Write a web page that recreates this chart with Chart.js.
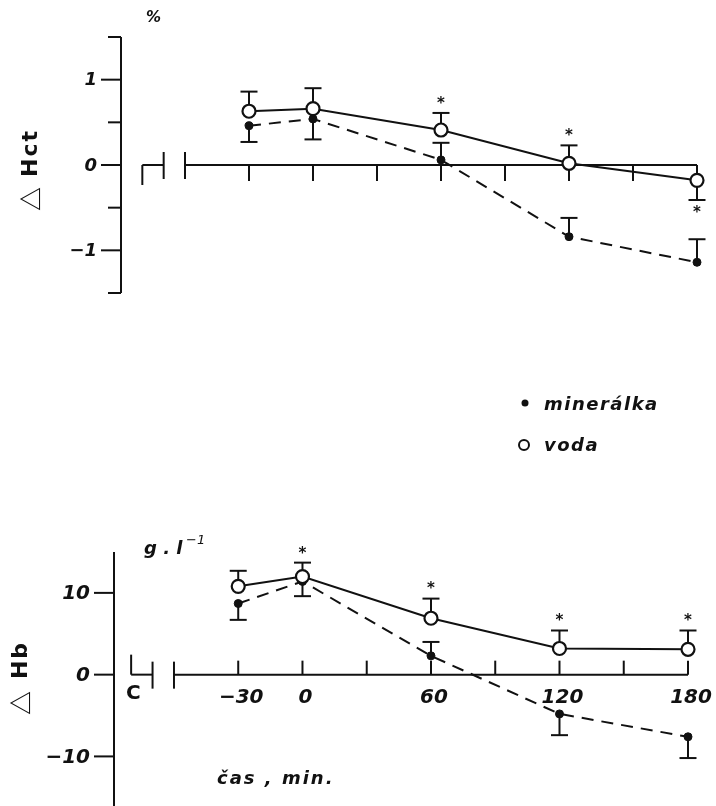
<!DOCTYPE html>
<html>
<head>
<meta charset="utf-8">
<script src="https://cdn.jsdelivr.net/npm/chart.js@4.4.1/dist/chart.umd.min.js"></script>
<style>
  body { margin: 0; background: #fff; width: 716px; height: 806px; position: relative; overflow: hidden; }
  canvas { position: absolute; left: 0; }
  #hct { top: 0; }
  #hb { top: 480px; }
</style>
</head>
<body>
<canvas id="hct" width="716" height="480"></canvas>
<canvas id="hb" width="716" height="326"></canvas>
<script>
// time points, min
const times = [-30, 0, 60, 120, 180];
const xTicks = [-30, 0, 30, 60, 90, 120, 150, 180];
const xTickLabels = ['\u221230', '0', '', '60', '', '120', '', '180'];

// delta Hct, %
const hctVoda = [0.63, 0.66, 0.41, 0.02, -0.18];
const hctVodaErr = [0.23, 0.24, 0.20, 0.21, -0.23];   // sign = side the bar is drawn
const hctMineralka = [0.46, 0.54, 0.06, -0.84, -1.14];
const hctMineralkaErr = [-0.19, -0.24, 0.20, 0.22, 0.27];
const hctStars = [false, false, true, true, true];
const hctTicks = [-1.5, -1, -0.5, 0, 0.5, 1, 1.5];
const hctTickLabels = ['', '\u22121', '', '0', '', '1', ''];

// delta Hb, g/l
const hbVoda = [10.8, 12.0, 6.9, 3.2, 3.1];
const hbVodaErr = [1.9, 1.7, 2.4, 2.2, 2.3];
const hbMineralka = [8.7, 11.4, 2.3, -4.8, -7.6];
const hbMineralkaErr = [-2.0, -1.8, 1.7, -2.6, -2.6];
const hbStars = [false, true, true, true, true];
const hbTicks = [-10, 0, 10];
const hbTickLabels = ['\u221210', '0', '10'];

const INK = '#111';
const FONT = "'DejaVu Sans'";

const toPoints = (vals) => times.map((t, i) => ({ x: t, y: vals[i] }));

function makeDatasets(voda, mineralka) {
	return [
		{
			label: 'voda',
			data: toPoints(voda),
			borderColor: INK,
			borderWidth: 2,
			pointRadius: 6.5,
			pointBorderWidth: 2.2,
			pointBackgroundColor: '#fff',
			pointBorderColor: INK,
			tension: 0,
			clip: false
		},
		{
			label: 'minerálka',
			data: toPoints(mineralka),
			borderColor: INK,
			borderWidth: 2,
			borderDash: [12, 8],
			pointRadius: 4,
			pointBorderWidth: 1,
			pointBackgroundColor: INK,
			pointBorderColor: INK,
			tension: 0,
			clip: false
		}
	];
}

function line(ctx, x1, y1, x2, y2) {
	ctx.beginPath();
	ctx.moveTo(x1, y1);
	ctx.lineTo(x2, y2);
	ctx.stroke();
}

// error bars with caps, stars next to the voda caps
function drawErrors(chart, errs, stars) {
	const ctx = chart.ctx;
	const xs = chart.scales.x, ys = chart.scales.y;
	ctx.save();
	ctx.strokeStyle = INK;
	ctx.lineWidth = 2;
	chart.data.datasets.forEach((ds, d) => {
		ds.data.forEach((p, i) => {
			const x = xs.getPixelForValue(p.x);
			const y0 = ys.getPixelForValue(p.y);
			const y1 = ys.getPixelForValue(p.y + errs[d][i]);
			line(ctx, x, y0, x, y1);
			line(ctx, x - 8.5, y1, x + 8.5, y1);
		});
	});
	ctx.fillStyle = INK;
	ctx.font = 'bold 15px ' + FONT;
	ctx.textAlign = 'center';
	ctx.textBaseline = 'middle';
	const voda = chart.data.datasets[0].data;
	voda.forEach((p, i) => {
		if (!stars[i]) return;
		const e = errs[0][i];
		const yc = ys.getPixelForValue(p.y + e);
		ctx.fillText('*', xs.getPixelForValue(p.x), yc + (e > 0 ? -9 : 13));
	});
	ctx.restore();
}

// broken x axis: "C" bracket, gap, then the time axis
function drawXAxis(chart, tickDir, tickLen, bracketDir) {
	const ctx = chart.ctx;
	const xs = chart.scales.x, ys = chart.scales.y;
	const y = ys.getPixelForValue(0);
	ctx.save();
	ctx.strokeStyle = INK;
	ctx.lineWidth = 2;
	const c1 = xs.getPixelForValue(-80), c2 = xs.getPixelForValue(-70), a0 = xs.getPixelForValue(-60);
	line(ctx, c1, y, c1, y + bracketDir * 20);
	line(ctx, c1, y, c2, y);
	line(ctx, c2, y - 13, c2, y + 14);
	line(ctx, a0, y - 13, a0, y + 14);
	line(ctx, a0, y, xs.right, y);
	xTicks.forEach(t => {
		const x = xs.getPixelForValue(t);
		line(ctx, x, y, x, y + tickDir * tickLen);
	});
	ctx.restore();
}

function drawYAxis(chart, ticks, labels, top, bottom, fontSize) {
	const ctx = chart.ctx;
	const ys = chart.scales.y;
	const x = chart.scales.x.left;
	ctx.save();
	ctx.strokeStyle = INK;
	ctx.lineWidth = 2;
	line(ctx, x, top, x, bottom);
	ctx.fillStyle = INK;
	ctx.font = 'bold italic ' + fontSize + 'px ' + FONT;
	ctx.textAlign = 'right';
	ctx.textBaseline = 'middle';
	ticks.forEach((v, i) => {
		const y = ys.getPixelForValue(v);
		const len = Number.isInteger(v) ? 20 : 13;
		line(ctx, x - len, y, x, y);
		if (labels[i]) ctx.fillText(labels[i], x - 20 - 4, y + 1);
	});
	ctx.restore();
}

function text(ctx, str, x, y, font, spacing, align) {
	ctx.font = font;
	ctx.letterSpacing = spacing || '0px';
	ctx.textAlign = align || 'left';
	ctx.fillText(str, x, y);
}

// rotated axis title: big hollow triangle + quantity name, centred at (cx, cy)
function axisTitle(ctx, name, cx, cy, gap) {
	ctx.save();
	ctx.translate(cx, cy);
	ctx.rotate(-Math.PI / 2);
	const triFont = "bold 24px 'Noto Sans CJK SC'";
	const nameFont = 'bold 22px ' + FONT;
	ctx.font = triFont;
	ctx.letterSpacing = '0px';
	const wTri = ctx.measureText('\u25B3').width;
	ctx.font = nameFont;
	ctx.letterSpacing = '2px';
	const wName = ctx.measureText(name).width;
	const x0 = -(wTri + gap + wName) / 2;
	text(ctx, '\u25B3', x0, 0, triFont, '0px');
	text(ctx, name, x0 + wTri + gap, 0, nameFont, '2px');
	ctx.restore();
}

const baseOptions = (xmin, ymin, ymax, padding) => ({
	responsive: false,
	animation: false,
	events: [],
	layout: { padding },
	plugins: { legend: { display: false }, tooltip: { enabled: false } },
	scales: {
		x: { type: 'linear', display: false, min: xmin, max: 180 },
		y: { display: false, min: ymin, max: ymax }
	}
});

const hctPlugin = {
	id: 'hctAxes',
	beforeDatasetsDraw(chart) {
		const ys = chart.scales.y;
		drawYAxis(chart, hctTicks, hctTickLabels, ys.getPixelForValue(1.5), ys.getPixelForValue(-1.5), 18);
		drawXAxis(chart, 1, 16, 1);
		drawErrors(chart, [hctVodaErr, hctMineralkaErr], hctStars);
	},
	afterDraw(chart) {
		const ctx = chart.ctx;
		ctx.save();
		ctx.fillStyle = INK;
		ctx.textBaseline = 'middle';
		text(ctx, '%', 146, 18, 'bold italic 15px ' + FONT);
		axisTitle(ctx, 'Hct', 31, 170, 10);

		// legend
		ctx.beginPath();
		ctx.arc(525, 403, 3.5, 0, Math.PI * 2);
		ctx.fill();
		ctx.beginPath();
		ctx.lineWidth = 2;
		ctx.strokeStyle = INK;
		ctx.arc(524, 445, 5, 0, Math.PI * 2);
		ctx.stroke();
		text(ctx, 'minerálka', 544, 405, 'bold italic 18px ' + FONT, '1.5px');
		text(ctx, 'voda', 544, 446, 'bold italic 18px ' + FONT, '1.5px');
		ctx.restore();
	}
};

const hbPlugin = {
	id: 'hbAxes',
	beforeDatasetsDraw(chart) {
		const ys = chart.scales.y;
		drawYAxis(chart, hbTicks, hbTickLabels, ys.getPixelForValue(15), chart.height, 20);
		drawXAxis(chart, -1, 14, -1);
		drawErrors(chart, [hbVodaErr, hbMineralkaErr], hbStars);
	},
	afterDraw(chart) {
		const ctx = chart.ctx;
		const xs = chart.scales.x, ys = chart.scales.y;
		const y0 = ys.getPixelForValue(0);
		ctx.save();
		ctx.fillStyle = INK;
		ctx.textBaseline = 'middle';
		xTicks.forEach((t, i) => {
			if (xTickLabels[i]) text(ctx, xTickLabels[i], xs.getPixelForValue(t) + 3, y0 + 23, 'bold italic 20px ' + FONT, '0px', 'center');
		});
		text(ctx, 'C', xs.getPixelForValue(-79), y0 + 19, 'bold 20px ' + FONT, '0px', 'center');
		text(ctx, 'g . l', 144, 69, 'bold italic 18px ' + FONT, '0px');
		text(ctx, '\u22121', 186, 61, 'italic 13px ' + FONT, '0px');
		text(ctx, 'čas , min.', 217, 299, 'bold italic 18px ' + FONT, '2px');
		axisTitle(ctx, 'Hb', 21, 198, 12);
		ctx.restore();
	}
};

new Chart(document.getElementById('hct'), {
	type: 'line',
	data: { datasets: makeDatasets(hctVoda, hctMineralka) },
	options: baseOptions(-90, -1.5, 1.5, { left: 121, right: 19, top: 37, bottom: 187 }),
	plugins: [hctPlugin]
});

new Chart(document.getElementById('hb'), {
	type: 'line',
	data: { datasets: makeDatasets(hbVoda, hbMineralka) },
	options: baseOptions(-88, -15, 15, { left: 114, right: 28, top: 72, bottom: 2 }),
	plugins: [hbPlugin]
});
</script>
</body>
</html>
